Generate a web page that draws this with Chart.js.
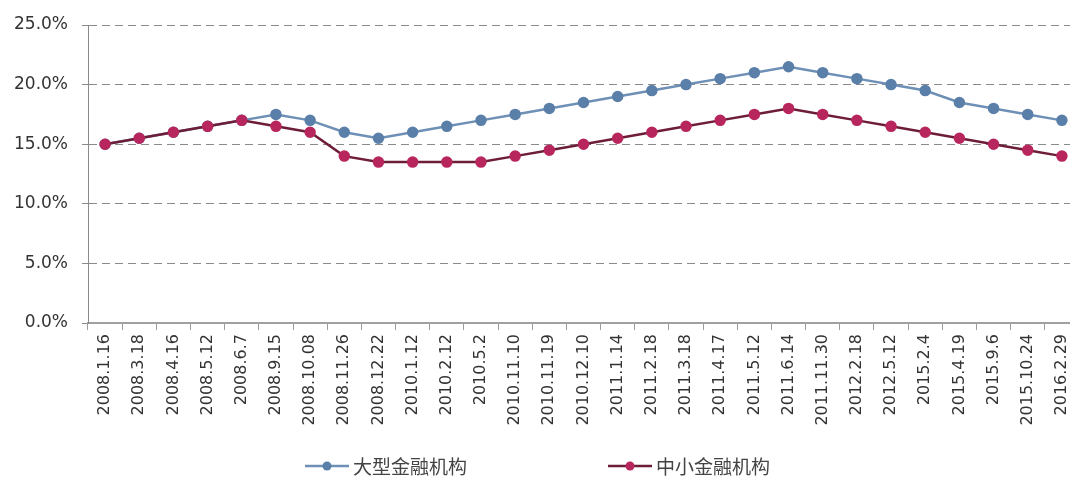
<!DOCTYPE html>
<html>
<head>
<meta charset="utf-8">
<script src="https://cdn.jsdelivr.net/npm/chart.js@4/dist/chart.umd.min.js"></script>
<style>
	html, body { margin: 0; padding: 0; background: #fff; overflow: hidden; }
	#wrap { width: 1086px; height: 478px; }
</style>
</head>
<body>
<div id="wrap"><canvas id="myChart" width="1086" height="478"></canvas></div>
<script>
// данные с графика
const dates = ['2008.1.16', '2008.3.18', '2008.4.16', '2008.5.12', '2008.6.7', '2008.9.15', '2008.10.08',
	'2008.11.26', '2008.12.22', '2010.1.12', '2010.2.12', '2010.5.2', '2010.11.10', '2010.11.19',
	'2010.12.10', '2011.1.14', '2011.2.18', '2011.3.18', '2011.4.17', '2011.5.12', '2011.6.14',
	'2011.11.30', '2012.2.18', '2012.5.12', '2015.2.4', '2015.4.19', '2015.9.6', '2015.10.24', '2016.2.29'];

const bigBanks = [15, 15.5, 16, 16.5, 17, 17.5, 17, 16, 15.5, 16, 16.5, 17, 17.5, 18,
	18.5, 19, 19.5, 20, 20.5, 21, 21.5, 21, 20.5, 20, 19.5, 18.5, 18, 17.5, 17];

const smallBanks = [15, 15.5, 16, 16.5, 17, 16.5, 16, 14, 13.5, 13.5, 13.5, 13.5, 14, 14.5,
	15, 15.5, 16, 16.5, 17, 17.5, 18, 17.5, 17, 16.5, 16, 15.5, 15, 14.5, 14];

const seriesNames = ['大型金融机构', '中小金融机构'];
const yTicks = [0, 5, 10, 15, 20, 25];

Chart.defaults.font.family = '"DejaVu Sans", sans-serif';
Chart.defaults.color = '#333';

// легенда снизу: линия с точкой + подпись
const bottomLegend = {
	id: 'bottomLegend',
	afterDraw(chart, args, opts) {
		const ctx = chart.ctx;
		const y = opts.y;
		chart.data.datasets.forEach((ds, i) => {
			const x = opts.starts[i];
			ctx.save();
			ctx.strokeStyle = ds.borderColor;
			ctx.lineWidth = 2.5;
			ctx.beginPath();
			ctx.moveTo(x, y);
			ctx.lineTo(x + 44, y);
			ctx.stroke();
			ctx.fillStyle = ds.pointBackgroundColor;
			ctx.beginPath();
			ctx.arc(x + 22, y, 4.5, 0, Math.PI * 2);
			ctx.fill();
			ctx.fillStyle = '#444';
			ctx.font = '19px "Noto Sans CJK SC", sans-serif';
			ctx.textBaseline = 'middle';
			ctx.fillText(ds.label, x + 48, y + 1);
			ctx.restore();
		});
	}
};

const ctx = document.getElementById('myChart').getContext('2d');
const chart = new Chart(ctx, {
	type: 'line',
	data: {
		labels: dates,
		datasets: [{
			label: seriesNames[0],
			data: bigBanks,
			borderColor: '#6f90b6',
			borderWidth: 2.5,
			pointBackgroundColor: '#5a7fa9',
			pointBorderColor: '#5a7fa9',
			pointRadius: 4.5,
			tension: 0,
			order: 2
		}, {
			label: seriesNames[1],
			data: smallBanks,
			borderColor: '#6e1d38',
			borderWidth: 2.5,
			pointBackgroundColor: '#b8265e',
			pointBorderColor: '#b8265e',
			pointRadius: 4.5,
			tension: 0,
			order: 1
		}]
	},
	options: {
		responsive: false,
		animation: false,
		layout: { padding: { top: 25, right: 7, bottom: 0, left: 0 } },
		plugins: {
			legend: { display: false },
			tooltip: { enabled: false },
			bottomLegend: { y: 466, starts: [305, 608] }
		},
		scales: {
			x: {
				offset: true,
				grid: {
					offset: true,
					drawOnChartArea: false,
					drawTicks: true,
					tickLength: 7,
					tickColor: '#9a9a9a',
					tickWidth: 1
				},
				border: { color: '#a0a0a0', width: 2 },
				ticks: {
					autoSkip: false,
					minRotation: 90,
					maxRotation: 90,
					padding: 4,
					color: '#333',
					font: { size: 16 }
				},
				afterFit(scale) { scale.height = 155; }
			},
			y: {
				min: 0,
				max: 25,
				afterBuildTicks(scale) { scale.ticks = yTicks.map(v => ({ value: v })); },
				grid: {
					color: '#8a8a8a',
					lineWidth: 1,
					tickLength: 6,
					tickColor: '#8a8a8a',
					tickBorderDash: []
				},
				border: { color: '#8a8a8a', width: 1, dash: [8, 5] },
				ticks: {
					padding: 14,
					color: '#333',
					font: { size: 17 },
					callback: (v) => v.toFixed(1) + '%'
				},
				afterFit(scale) { scale.width = 88; }
			}
		}
	},
	plugins: [bottomLegend]
});
</script>
</body>
</html>
